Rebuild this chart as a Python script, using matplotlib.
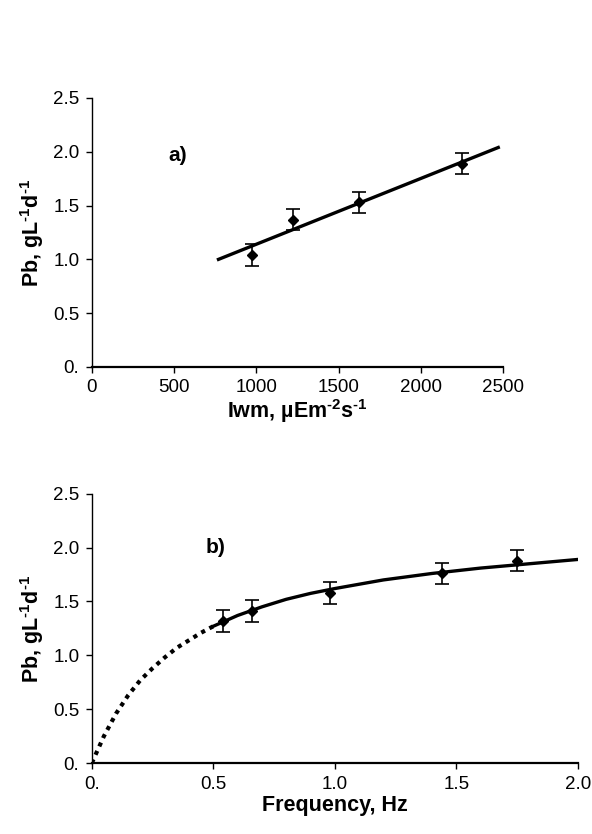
import matplotlib
matplotlib.use('Agg')
import matplotlib.pyplot as plt

plt.rcParams['font.family'] = ['Liberation Sans', 'DejaVu Sans']
plt.rcParams['mathtext.fontset'] = 'custom'
plt.rcParams['mathtext.rm'] = 'Liberation Sans:bold'
plt.rcParams['mathtext.bf'] = 'Liberation Sans:bold'

# panel a) light intensity
iwm = [975, 1225, 1625, 2250]
pb_a = [1.04, 1.37, 1.53, 1.89]
err_a = [0.10, 0.10, 0.10, 0.10]
fit_a_x = [770, 2470]
fit_a_y = [1.00, 2.04]

# panel b) frequency
freq = [0.54, 0.66, 0.98, 1.44, 1.75]
pb_b = [1.32, 1.41, 1.58, 1.76, 1.88]
err_b = [0.10, 0.10, 0.10, 0.10, 0.10]
dot_x = [0, 0.05, 0.1, 0.15, 0.2, 0.25, 0.3, 0.35, 0.4, 0.45, 0.5]
dot_y = [0, 0.25, 0.46, 0.63, 0.77, 0.88, 0.98, 1.07, 1.14, 1.21, 1.27]
fit_b_x = [0.5, 0.6, 0.7, 0.8, 0.9, 1.0, 1.2, 1.4, 1.6, 1.8, 2.0]
fit_b_y = [1.27, 1.37, 1.45, 1.52, 1.575, 1.62, 1.70, 1.76, 1.81, 1.85, 1.89]

yticks = [0, 0.5, 1.0, 1.5, 2.0, 2.5]
ytick_labels = ['0.', '0.5', '1.0', '1.5', '2.0', '2.5']

fig = plt.figure(figsize=(5.92, 8.34), dpi=100)
ax1 = fig.add_axes([0.155, 0.560, 0.695, 0.3225])
ax2 = fig.add_axes([0.155, 0.085, 0.821, 0.323])

hy = '\u2010'  # short hyphen for the exponents
ylab = 'Pb, gL$^{\\mathrm{' + hy + '1}}$d$^{\\mathrm{' + hy + '1}}$'
xlab_a = 'Iwm, µEm$^{\\mathrm{' + hy + '2}}$s$^{\\mathrm{' + hy + '1}}$'

# a)
ax1.plot(fit_a_x, fit_a_y, color='black', lw=2.4)
ax1.errorbar(iwm, pb_a, yerr=err_a, fmt='D', color='black', ms=5.5,
             capsize=5, elinewidth=1.2, capthick=1.2)
ax1.set_xlim(0, 2500)
ax1.set_ylim(0, 2.5)
ax1.set_xticks([0, 500, 1000, 1500, 2000, 2500])
ax1.set_yticks(yticks)
ax1.set_yticklabels(ytick_labels)
ax1.set_xlabel(xlab_a, fontsize=15.5, fontweight='bold', labelpad=0.5)
ax1.set_ylabel(ylab, fontsize=15.5, fontweight='bold', labelpad=5)
ax1.text(520, 1.97, 'a)', fontsize=15, fontweight='bold', ha='center', va='center')

# b)
ax2.plot(dot_x, dot_y, color='black', lw=3, linestyle=(0, (1, 1.2)))
ax2.plot(fit_b_x, fit_b_y, color='black', lw=2.4)
ax2.errorbar(freq, pb_b, yerr=err_b, fmt='D', color='black', ms=5.5,
             capsize=5, elinewidth=1.2, capthick=1.2)
ax2.set_xlim(0, 2.0)
ax2.set_ylim(0, 2.5)
ax2.set_xticks([0, 0.5, 1.0, 1.5, 2.0])
ax2.set_xticklabels(['0.', '0.5', '1.0', '1.5', '2.0'])
ax2.set_yticks(yticks)
ax2.set_yticklabels(ytick_labels)
ax2.set_xlabel('Frequency, Hz', fontsize=15.5, fontweight='bold', labelpad=2)
ax2.set_ylabel(ylab, fontsize=15.5, fontweight='bold', labelpad=5)
ax2.text(0.51, 2.0, 'b)', fontsize=15, fontweight='bold', ha='center', va='center')

for ax in (ax1, ax2):
    ax.spines['top'].set_visible(False)
    ax.spines['right'].set_visible(False)
    ax.spines['left'].set_linewidth(1.0)
    ax.spines['bottom'].set_linewidth(1.6)
    ax.tick_params(labelsize=13.5, length=4, width=1, pad=5)

fig.savefig('out.png', dpi=100)
